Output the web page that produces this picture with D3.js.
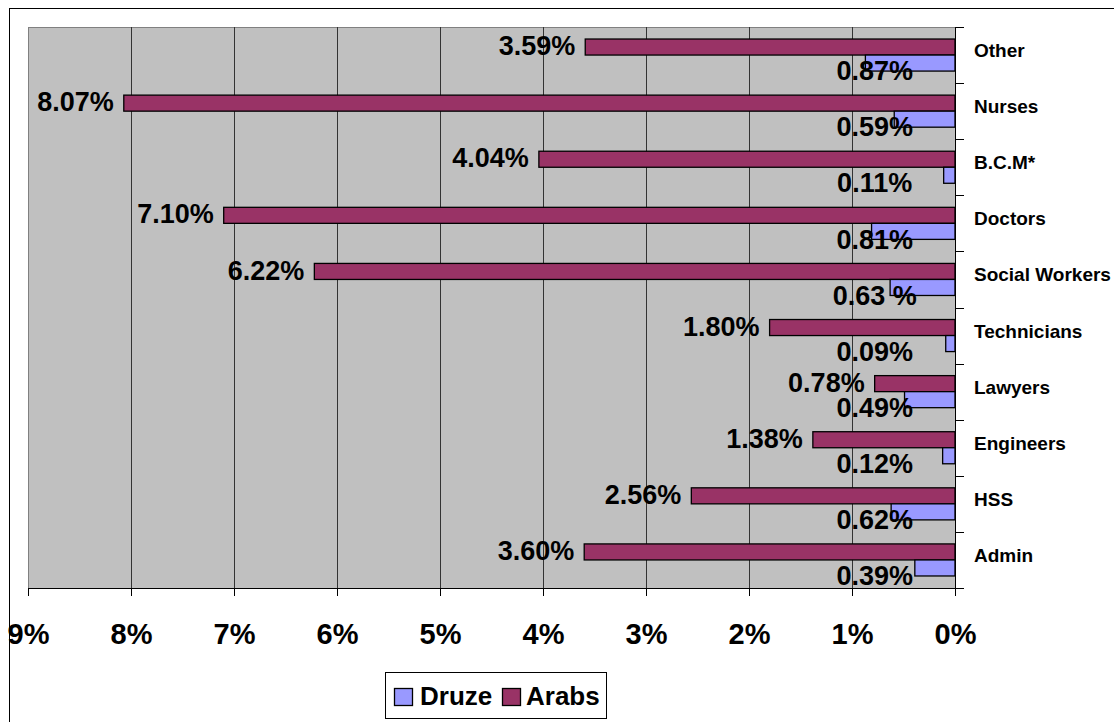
<!DOCTYPE html>
<head>
  <style>
    body { margin: 0; background: #fff; }
    text { font-family: "Liberation Sans", Arial, sans-serif; font-weight: bold; }
  </style>
</head>
<body>
  <script src="https://cdn.jsdelivr.net/npm/d3@7/dist/d3.min.js"></script>
  <script>
    // data (percent)
    const categories = ["Other", "Nurses", "B.C.M*", "Doctors", "Social Workers",
                        "Technicians", "Lawyers", "Engineers", "HSS", "Admin"];
    const arabs = [3.59, 8.07, 4.04, 7.10, 6.22, 1.80, 0.78, 1.38, 2.56, 3.60];
    const druze = [0.87, 0.59, 0.11, 0.81, 0.63, 0.09, 0.49, 0.12, 0.62, 0.39];
    const arabLabels = ["3.59%", "8.07%", "4.04%", "7.10%", "6.22%", "1.80%", "0.78%", "1.38%", "2.56%", "3.60%"];
    const druzeLabels = ["0.87%", "0.59%", "0.11%", "0.81%", "0.63 %", "0.09%", "0.49%", "0.12%", "0.62%", "0.39%"];
    const xTicks = [0, 1, 2, 3, 4, 5, 6, 7, 8, 9];
    const series = ["Arabs", "Druze"];

    const W = 1114, H = 722;
    const plot = { left: 28, right: 955, top: 27, bottom: 588 };
    const colors = { Arabs: "#993366", Druze: "#9999FF" };

    const svg = d3.select("body").append("svg")
      .attr("width", W)
      .attr("height", H);

    // chart frame
    svg.append("rect")
      .attr("x", 9.5).attr("y", 8.5)
      .attr("width", 1200).attr("height", 800)
      .attr("fill", "#fff").attr("stroke", "#000");

    const x = d3.scaleLinear().domain([0, 9]).range([plot.right, plot.left]);
    const y = d3.scaleBand().domain(categories).range([plot.top, plot.bottom]);
    const ySub = d3.scaleBand().domain(series).range([0, y.bandwidth()])
      .paddingInner(0).paddingOuter(0.75);

    // plot area
    svg.append("rect")
      .attr("x", plot.left + 0.5).attr("y", plot.top + 0.5)
      .attr("width", plot.right - plot.left).attr("height", plot.bottom - plot.top)
      .attr("fill", "#C0C0C0").attr("stroke", "#808080");

    // gridlines
    svg.append("g").selectAll("line")
      .data(xTicks.filter(d => d > 0 && d < 9))
      .enter().append("line")
      .attr("x1", d => Math.round(x(d)) + 0.5).attr("x2", d => Math.round(x(d)) + 0.5)
      .attr("y1", plot.top).attr("y2", plot.bottom)
      .attr("stroke", "#333").attr("stroke-width", 1);

    // bars
    const rows = categories.map((c, i) => ({ cat: c, Arabs: arabs[i], Druze: druze[i], i: i }));

    series.forEach(s => {
      svg.append("g").selectAll("rect")
        .data(rows)
        .enter().append("rect")
        .attr("x", d => x(d[s]))
        .attr("y", d => y(d.cat) + ySub(s))
        .attr("width", d => x(0) - x(d[s]))
        .attr("height", ySub.bandwidth())
        .attr("fill", colors[s])
        .attr("stroke", "#000")
        .attr("stroke-width", 1.3);
    });

    // x axis
    const xAxis = d3.axisBottom(x)
      .tickValues(xTicks)
      .tickFormat(d => d + "%")
      .tickSize(8)
      .tickPadding(27);

    const gx = svg.append("g")
      .attr("transform", `translate(0, ${plot.bottom})`)
      .call(xAxis);
    gx.select(".domain").attr("stroke", "#000");
    gx.selectAll("text")
      .attr("font-size", 29).attr("fill", "#000")
      .style("font-family", "'Liberation Sans', Arial, sans-serif").style("font-weight", "bold");

    // y axis on the right
    svg.append("line")
      .attr("x1", plot.right + 0.5).attr("x2", plot.right + 0.5)
      .attr("y1", plot.top).attr("y2", plot.bottom + 8)
      .attr("stroke", "#000");

    const bounds = categories.map(c => y(c)).concat([y.range()[1]]);
    svg.append("g").selectAll("line")
      .data(bounds)
      .enter().append("line")
      .attr("x1", plot.right).attr("x2", plot.right + 9)
      .attr("y1", d => Math.round(d) + 0.5).attr("y2", d => Math.round(d) + 0.5)
      .attr("stroke", "#000");

    svg.append("g").selectAll("text")
      .data(categories)
      .enter().append("text")
      .attr("x", 974)
      .attr("y", d => y(d) + y.bandwidth() / 2 - 3)
      .attr("dominant-baseline", "middle")
      .attr("font-size", 19)
      .text(d => d);

    // data labels
    svg.append("g").selectAll("text")
      .data(rows)
      .enter().append("text")
      .attr("x", d => x(d.Arabs) - 10)
      .attr("y", d => y(d.cat) + ySub("Arabs") + ySub.bandwidth() / 2 + 1)
      .attr("dominant-baseline", "middle")
      .attr("text-anchor", "end")
      .attr("font-size", 27)
      .text(d => arabLabels[d.i]);

    svg.append("g").selectAll("text")
      .data(rows)
      .enter().append("text")
      .attr("x", x(0.78))
      .attr("y", d => y(d.cat) + ySub("Druze") + ySub.bandwidth() + 2)
      .attr("dominant-baseline", "middle")
      .attr("text-anchor", "middle")
      .attr("font-size", 27)
      .text(d => druzeLabels[d.i]);

    // legend
    const legend = svg.append("g");
    legend.append("rect")
      .attr("x", 385.5).attr("y", 672.5)
      .attr("width", 221).attr("height", 46)
      .attr("fill", "#fff").attr("stroke", "#000");

    const legendItems = [["Druze", 394, 420], ["Arabs", 502, 526]];
    legendItems.forEach(([name, sx, tx]) => {
      legend.append("rect")
        .attr("x", sx + 0.5).attr("y", 688.5)
        .attr("width", 18).attr("height", 17)
        .attr("fill", colors[name]).attr("stroke", "#000").attr("stroke-width", 1.3);
      legend.append("text")
        .attr("x", tx).attr("y", 705)
        .attr("font-size", 26)
        .text(name);
    });
  </script>
</body>
